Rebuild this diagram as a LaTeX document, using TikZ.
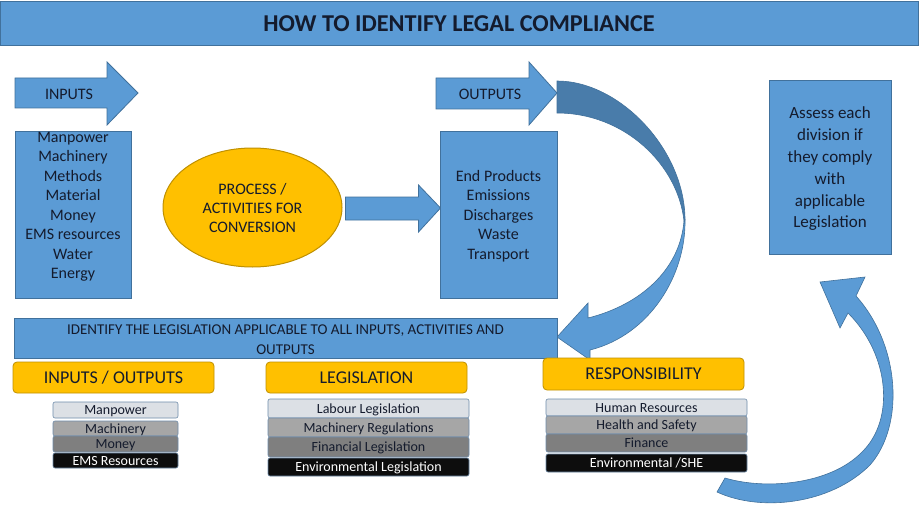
\documentclass[tikz,border=0pt]{standalone}
\usepackage{fontspec}
\setmainfont{Carlito}
\usetikzlibrary{shapes.geometric}
\definecolor{boxblue}{HTML}{5B9BD5}
\definecolor{edgeblue}{HTML}{41719C}
\definecolor{shadeblue}{HTML}{497CAA}
\definecolor{gold}{HTML}{FFC000}
\definecolor{golddark}{HTML}{BF9000}
\definecolor{ink}{HTML}{141B2D}
\definecolor{paleg}{HTML}{DCE0E5}
\definecolor{midg}{HTML}{A6A6A6}
\definecolor{darkg}{HTML}{7F7F7F}
\definecolor{nearblack}{HTML}{0D0D0D}
\definecolor{greyedge}{HTML}{6E8CAA}

\begin{document}
\begin{tikzpicture}[x=1pt,y=-1pt,
  bluebox/.style={draw=edgeblue,fill=boxblue,line width=1pt,text=ink,align=center,inner sep=0pt},
  blockarr/.style={draw=edgeblue,fill=boxblue,line width=0.8pt,line join=miter},
  arrlabel/.style={text=ink,inner sep=0pt,font=\fontsize{16}{19}\selectfont},
  yelbox/.style={draw=golddark,fill=gold,line width=0.8pt,rounded corners=4pt,minimum width=201pt,inner sep=0pt,text=ink,font=\fontsize{18}{21}\selectfont},
  greybox/.style={draw=greyedge,line width=0.6pt,rounded corners=2pt,inner sep=0pt,text=ink,text height=11pt,text depth=2pt,font=\fontsize{14}{16}\selectfont}]
\fill[white] (0,0) rectangle (920,508);
\useasboundingbox (0,0) rectangle (920,508);
\node[bluebox,minimum width=918pt,minimum height=44pt,font=\bfseries\fontsize{24.2}{28}\selectfont] (title) at (459,24) {HOW TO IDENTIFY LEGAL COMPLIANCE};
\draw[blockarr] (15,78) -- (107,78) -- (107,62) -- (138,93) -- (107,125) -- (107,108) -- (15,108) -- cycle;
\node[arrlabel] (inlbl) at (69,94) {INPUTS};
\node[bluebox,minimum width=116pt,minimum height=167pt,text depth=18pt,font=\fontsize{16}{19.5}\selectfont] (inbox) at (73,214.5) {Manpower\\Machinery\\Methods\\Material\\Money\\EMS resources\\Water\\Energy};
\node[ellipse,draw=golddark,fill=gold,line width=1pt,minimum width=179pt,minimum height=119pt,inner sep=0pt,align=center,text=ink,font=\fontsize{16}{19}\selectfont] (proc) at (252.5,207.5) {PROCESS /\\ACTIVITIES FOR\\CONVERSION};
\draw[blockarr] (proc.east) ++(3,-10.5) -- ++(73,0) -- ++(0,-12) -- ++(22,23) -- ++(-22,24) -- ++(0,-12) -- ++(-73,0) -- cycle;
\fill[shadeblue,draw=edgeblue,line width=0.6pt] (557,81) .. controls (620,81) and (685,150) .. (685,220) -- (684,221) .. controls (678,165) and (625,113) .. (557,113) -- cycle;
\filldraw[fill=boxblue,draw=edgeblue,line width=0.6pt] (685,220) .. controls (686,275) and (650,335) .. (590,350) -- (590,360) -- (557,337) -- (588,303) -- (588,318) .. controls (640,305) and (680,270) .. (684,221) -- cycle;
\draw[blockarr] (436,78) -- (529,78) -- (529,62) -- (557,93) -- (529,125) -- (529,109) -- (436,109) -- cycle;
\node[arrlabel] (outlbl) at (490,94) {OUTPUTS};
\node[bluebox,minimum width=117pt,minimum height=167pt,text depth=-0.5pt,font=\fontsize{16}{19.5}\selectfont] (outbox) at (498.5,214.5) {End Products\\Emissions\\Discharges\\Waste\\Transport};
\node[bluebox,minimum width=122pt,minimum height=173pt,text depth=0pt,font=\fontsize{17}{21.8}\selectfont] (assess) at (830,167.5) {Assess each\\division if\\they comply\\with\\applicable\\Legislation};
\node[bluebox,minimum width=543pt,minimum height=40pt,text height=33pt,text depth=0pt,font=\fontsize{15}{20}\selectfont] (ident) at (285.5,338) {IDENTIFY THE LEGISLATION APPLICABLE TO ALL INPUTS, ACTIVITIES AND\\OUTPUTS};
\node[yelbox,minimum height=31pt] (hio) at (113.5,377.5) {INPUTS / OUTPUTS};
\node[yelbox,minimum height=31pt] (hleg) at (366.5,377.5) {LEGISLATION};
\node[yelbox,minimum height=32pt] (hresp) at (643.5,374) {RESPONSIBILITY};
\node[greybox,fill=paleg,minimum width=125pt,minimum height=16pt] (io1) at (115.5,410) {Manpower};
\node[greybox,fill=midg,minimum width=125pt,minimum height=15pt] (io2) at (115.5,428.5) {Machinery};
\node[greybox,fill=darkg,minimum width=125pt,minimum height=16pt] (io3) at (115.5,444) {Money};
\node[greybox,fill=nearblack,text=white,minimum width=125pt,minimum height=15pt] (io4) at (115.5,460.5) {EMS Resources};
\node[greybox,fill=paleg,minimum width=201pt,minimum height=19pt] (leg1) at (368.5,408.5) {Labour Legislation};
\node[greybox,fill=midg,minimum width=201pt,minimum height=19pt] (leg2) at (368.5,427.5) {Machinery Regulations};
\node[greybox,fill=darkg,minimum width=201pt,minimum height=20pt] (leg3) at (368.5,447) {Financial Legislation};
\node[greybox,fill=nearblack,text=white,minimum width=201pt,minimum height=18pt] (leg4) at (368.5,467) {Environmental Legislation};
\node[greybox,fill=paleg,minimum width=201pt,minimum height=17pt] (resp1) at (646.5,407.5) {Human Resources};
\node[greybox,fill=midg,minimum width=201pt,minimum height=18pt] (resp2) at (646.5,425) {Health and Safety};
\node[greybox,fill=darkg,minimum width=201pt,minimum height=18pt] (resp3) at (646.5,443) {Finance};
\node[greybox,fill=nearblack,text=white,minimum width=201pt,minimum height=18pt] (resp4) at (646.5,463) {Environmental /SHE};
\filldraw[fill=boxblue,draw=edgeblue,line width=0.6pt] (717,492) .. controls (760,512) and (830,505) .. (870,465) .. controls (905,425) and (900,345) .. (856,296) -- (865,277) -- (820,282) -- (840,328) -- (848,313) .. controls (890,355) and (895,420) .. (862,452) .. controls (830,485) and (765,490) .. (725,478) -- cycle;
\end{tikzpicture}
\end{document}
